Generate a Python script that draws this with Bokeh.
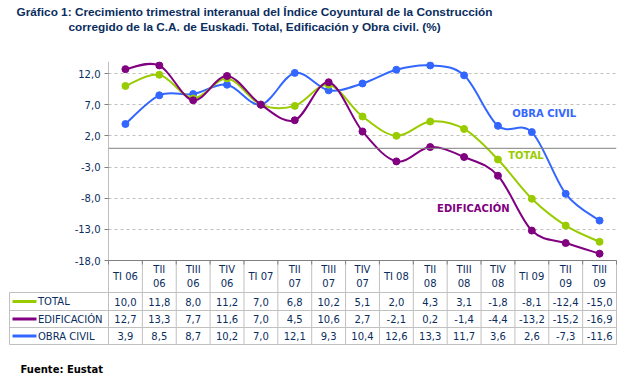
from bokeh.plotting import figure
from bokeh.models import FixedTicker, CustomJSTickFormatter, Span
from bokeh.core.properties import value
from bokeh.embed import file_html
from bokeh.resources import INLINE

# ---------------- data ----------------
categories = ["TI 06", "TII\n06", "TIII\n06", "TIV\n06", "TI 07", "TII\n07", "TIII\n07", "TIV\n07",
              "TI 08", "TII\n08", "TIII\n08", "TIV\n08", "TI 09", "TII\n09", "TIII\n09"]
total = [10.0, 11.8, 8.0, 11.2, 7.0, 6.8, 10.2, 5.1, 2.0, 4.3, 3.1, -1.8, -8.1, -12.4, -15.0]
edificacion = [12.7, 13.3, 7.7, 11.6, 7.0, 4.5, 10.6, 2.7, -2.1, 0.2, -1.4, -4.4, -13.2, -15.2, -16.9]
obra_civil = [3.9, 8.5, 8.7, 10.2, 7.0, 12.1, 9.3, 10.4, 12.6, 13.3, 11.7, 3.6, 2.6, -7.3, -11.6]
series_names = ["TOTAL", "EDIFICACIÓN", "OBRA CIVIL"]
y_ticks = [-18, -13, -8, -3, 2, 7, 12]
title_lines = ["Gráfico 1: Crecimiento trimestral interanual del Índice Coyuntural de la Construcción",
               "corregido de la C.A. de Euskadi. Total, Edificación y Obra civil. (%)"]
source_text = "Fuente: Eustat"

COLORS = ["#99CC00", "#800080", "#3366FF"]
NAVY = "#0A2D5E"
GRID = "#C0C0C0"
AXIS = "#808080"
FONT = value("DejaVu Sans")

# ---------------- geometry (picture pixels) ----------------
FL, FR, FT, FB = 108, 616, 61, 344
n = len(categories)
X0, X1 = -0.5, n - 0.5
PPU = (260 - 73) / 30.0           # pixels per unit on y
Y1 = 12 + (73 - FT) / PPU
Y0 = -18 - (FB - 260) / PPU


def px2x(px):
    return X0 + (px - FL) / (FR - FL) * (X1 - X0)


def py2y(py):
    return Y1 - (py - FT) / (FB - FT) * (Y1 - Y0)


W, H = 623, 376
p = figure(width=W, height=H, output_backend="svg", toolbar_location=None,
           x_range=(X0, X1), y_range=(Y0, Y1), x_axis_location=None,
           min_border_left=FL, min_border_right=W - FR,
           min_border_top=FT, min_border_bottom=H - FB,
           title=None)
p.outline_line_color = None
p.background_fill_color = "white"
p.border_fill_color = "white"
p.xgrid.visible = False

ax = p.yaxis[0]
ax.ticker = FixedTicker(ticks=y_ticks)
ax.formatter = CustomJSTickFormatter(code="return tick.toFixed(1).replace('.', ',')")
ax.axis_line_color = None
ax.major_tick_line_color = AXIS
ax.major_tick_out = 4
ax.major_tick_in = 0
ax.minor_tick_line_color = None
ax.major_label_text_font = "DejaVu Sans"
ax.major_label_text_font_size = "10px"
ax.major_label_text_color = NAVY
ax.major_label_standoff = 4

p.ygrid.grid_line_color = GRID
p.ygrid.grid_line_dash = "3 3"
p.ygrid.grid_line_width = 1

p.add_layout(Span(location=0, dimension="width", line_color=AXIS, line_width=1))

# y axis line over the chart area
p.segment(x0=[X0], y0=[y_ticks[0]], x1=[X0], y1=[Y1], line_color=AXIS, line_width=1)


# ---------------- smoothed series ----------------
def bezier_parts(vals):
    xs = list(range(len(vals)))
    x0, y0, x1, y1, cx0, cy0, cx1, cy1 = [], [], [], [], [], [], [], []
    for i in range(len(vals) - 1):
        pxm = xs[i - 1] if i > 0 else xs[i]
        pym = vals[i - 1] if i > 0 else vals[i]
        pxp = xs[i + 2] if i + 2 < len(vals) else xs[i + 1]
        pyp = vals[i + 2] if i + 2 < len(vals) else vals[i + 1]
        x0.append(xs[i]); y0.append(vals[i]); x1.append(xs[i + 1]); y1.append(vals[i + 1])
        cx0.append(xs[i] + (xs[i + 1] - pxm) / 6.0); cy0.append(vals[i] + (vals[i + 1] - pym) / 6.0)
        cx1.append(xs[i + 1] - (pxp - xs[i]) / 6.0); cy1.append(vals[i + 1] - (pyp - vals[i]) / 6.0)
    return dict(x0=x0, y0=y0, x1=x1, y1=y1, cx0=cx0, cy0=cy0, cx1=cx1, cy1=cy1)


for vals, col in zip([obra_civil, total, edificacion], [COLORS[2], COLORS[0], COLORS[1]]):
    b = bezier_parts(vals)
    p.bezier(**b, line_color=col, line_width=2)
    p.scatter(list(range(n)), vals, size=7, marker="circle", fill_color=col, line_color=col)

# series labels
p.text(x=[px2x(543.7)], y=[py2y(113.3)], text=["OBRA CIVIL"], text_color=COLORS[2],
       text_font=FONT, text_font_style="bold", text_font_size="10px",
       text_align="center", text_baseline="middle")
p.text(x=[px2x(525.5)], y=[py2y(155)], text=["TOTAL"], text_color=COLORS[0],
       text_font=FONT, text_font_style="bold", text_font_size="10px",
       text_align="center", text_baseline="middle")
p.text(x=[px2x(472.8)], y=[py2y(208.3)], text=["EDIFICACIÓN"], text_color=COLORS[1],
       text_font=FONT, text_font_style="bold", text_font_size="10px",
       text_align="center", text_baseline="middle")

# ---------------- data table ----------------
row_lines = [292, 310, 327, 344]
row_centers = [301, 318.5, 335.5]
# horizontal lines
p.segment(x0=[px2x(9)] * len(row_lines), y0=[py2y(v) for v in row_lines],
          x1=[X1] * len(row_lines), y1=[py2y(v) for v in row_lines],
          line_color=GRID, line_width=1, level="overlay")
# vertical lines
vx = [X0 + k for k in range(n + 1)]
p.segment(x0=vx, y0=[py2y(260)] * len(vx), x1=vx, y1=[py2y(344)] * len(vx),
          line_color=GRID, line_width=1, level="overlay")
p.segment(x0=[px2x(9)], y0=[py2y(292)], x1=[px2x(9)], y1=[py2y(344)],
          line_color=GRID, line_width=1, level="overlay")
# x axis line with boundary ticks
p.segment(x0=[X0], y0=[y_ticks[0]], x1=[X1], y1=[y_ticks[0]], line_color=AXIS, line_width=1,
          level="overlay")
p.segment(x0=vx, y0=[y_ticks[0]] * len(vx), x1=vx, y1=[py2y(264)] * len(vx),
          line_color=AXIS, line_width=1, level="overlay")

# header
p.text(x=list(range(n)), y=[py2y(276)] * n, text=categories, text_color=NAVY,
       text_font=FONT, text_font_size="10px", text_align="center", text_baseline="middle",
       text_line_height=1.3, level="overlay")

# values
for vals, yc in zip([total, edificacion, obra_civil], row_centers):
    labels = [f"{v:.1f}".replace(".", ",") for v in vals]
    p.text(x=list(range(n)), y=[py2y(yc)] * n, text=labels, text_color=NAVY,
           text_font=FONT, text_font_size="10px", text_align="center", text_baseline="middle",
           level="overlay")

# legend column
for name, col, yc in zip(series_names, COLORS, row_centers):
    p.segment(x0=[px2x(12)], y0=[py2y(yc)], x1=[px2x(36)], y1=[py2y(yc)],
              line_color=col, line_width=3, level="overlay")
    p.scatter([px2x(24)], [py2y(yc)], size=6, marker="circle", fill_color=col, line_color=col,
              level="overlay")
    p.text(x=[px2x(37.5)], y=[py2y(yc)], text=[name], text_color=NAVY, text_font=FONT,
           text_font_size="10px", text_align="left", text_baseline="middle", level="overlay")

# title and source
p.text(x=[px2x(254)] * 2, y=[py2y(11), py2y(26.5)], text=title_lines, text_color=NAVY,
       text_font=value("Liberation Sans"), text_font_style="bold", text_font_size="11.8px",
       text_align="center", text_baseline="middle", level="overlay")
p.text(x=[px2x(20)], y=[py2y(368.5)], text=[source_text], text_color="black", text_font=FONT,
       text_font_style="bold", text_font_size="10px", text_align="left", text_baseline="middle",
       level="overlay")

open("out.html", "w").write(file_html(p, INLINE))
